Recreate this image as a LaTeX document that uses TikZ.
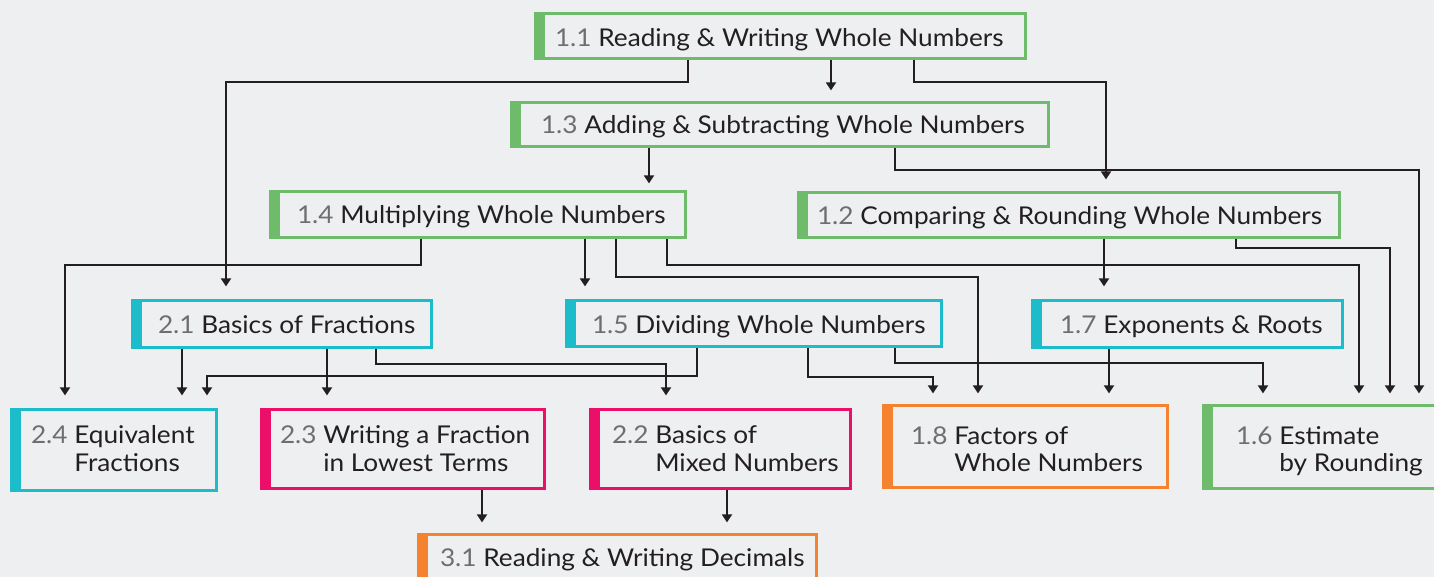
\documentclass[tikz,border=0pt]{standalone}
\usepackage{fontspec}
\setmainfont[FakeStretch=1.07]{Lato}
\usetikzlibrary{arrows.meta}
\definecolor{bgcol}{HTML}{EEEFF1}
\definecolor{grncol}{HTML}{6DBB6B}
\definecolor{cyncol}{HTML}{1DBCCA}
\definecolor{magcol}{HTML}{EC0F6A}
\definecolor{orgcol}{HTML}{F5822F}
\definecolor{numcol}{HTML}{6D6E71}
\definecolor{txtcol}{HTML}{231F20}
\definecolor{lincol}{HTML}{231F20}
\newcommand\mybox[6]{%
  \node[box=#2, minimum width={#5-#3-2.8}, minimum height={#6-#4-2.8}] (#1) at ({(#3+#5)/2},{(#4+#6)/2}) {};
  \fill[#2] (#3,#4) rectangle ({#3+11},#6);}
\newcommand\nm[1]{\textcolor{numcol}{#1}}
\begin{document}
\begin{tikzpicture}[x=1pt,y=-1pt,
  box/.style={draw=#1, line width=2.8pt, inner sep=0pt, outer sep=0pt},
  lbl/.style={font=\fontsize{24.5}{28}\selectfont, text=txtcol, inner sep=0pt, outer sep=0pt, anchor=base west},
  conn/.style={draw=lincol, line width=1.8pt, -{Triangle[width=10pt,length=8pt]}, shorten <=1.4pt, shorten >=#1},
  conn/.default=12.5pt]
\fill[bgcol] (0,0) rectangle (1434,577);
\useasboundingbox (0,0) rectangle (1434,577);
% boxes
\mybox{n11}{grncol}{534}{12}{1027}{60}
\mybox{n13}{grncol}{510}{101}{1050}{148}
\mybox{n14}{grncol}{269}{190}{687}{239}
\mybox{n12}{grncol}{797}{191}{1341}{239}
\mybox{n21}{cyncol}{131}{299}{433}{349}
\mybox{n15}{cyncol}{565}{299}{943}{348}
\mybox{n17}{cyncol}{1031}{299}{1344}{349}
\mybox{n24}{cyncol}{10}{408}{218}{492}
\mybox{n23}{magcol}{260}{408}{546}{490}
\mybox{n22}{magcol}{589}{408}{852}{490}
\mybox{n18}{orgcol}{882}{404}{1169}{489}
\mybox{n16}{grncol}{1202}{404}{1450}{490}
\mybox{n31}{orgcol}{417}{533}{818}{595}
% labels
\node[lbl] (t11) at (555,47) {\nm{1.1} Reading \& Writing Whole Numbers};
\node[lbl] (t13) at (541,134) {\nm{1.3} Adding \& Subtracting Whole Numbers};
\node[lbl] (t14) at (297,224) {\nm{1.4} Multiplying Whole Numbers};
\node[lbl] (t12) at (817,224.5) {\nm{1.2} Comparing \& Rounding Whole Numbers};
\node[lbl] (t21) at (158,333.5) {\nm{2.1} Basics of Fractions};
\node[lbl] (t15) at (592,333) {\nm{1.5} Dividing Whole Numbers};
\node[lbl] (t17) at (1060,333.5) {\nm{1.7} Exponents \& Roots};
\node[lbl] (t24) at (31,443) {\nm{2.4} Equivalent};
\node[lbl] (t24b) at (31,471) {\hphantom{2.4\ }Fractions};
\node[lbl] (t23) at (280,443) {\nm{2.3} Writing a Fraction};
\node[lbl] (t23b) at (280,471) {\hphantom{2.3\ }in Lowest Terms};
\node[lbl] (t22) at (612,443) {\nm{2.2} Basics of};
\node[lbl] (t22b) at (612,471) {\hphantom{2.2\ }Mixed Numbers};
\node[lbl] (t18) at (911,444) {\nm{1.8} Factors of};
\node[lbl] (t18b) at (911,471) {\hphantom{1.8\ }Whole Numbers};
\node[lbl] (t16) at (1236,444) {\nm{1.6} Estimate};
\node[lbl] (t16b) at (1236,471) {\hphantom{1.6\ }by Rounding};
\node[lbl] (t31) at (440,566) {\nm{3.1} Reading \& Writing Decimals};
% connectors
\draw[conn=14pt] (688,0 |- n11.south) |- (226,82) -- (226,0 |- n21.north);
\draw[conn=12pt] (831,0 |- n11.south) -- (831,0 |- n13.north);
\draw[conn=13pt] (914,0 |- n11.south) |- (1106,82) -- (1106,0 |- n12.north);
\draw[conn=8pt] (649,0 |- n13.south) -- (649,0 |- n14.north);
\draw[conn=12pt] (895,0 |- n13.south) |- (1419,170) -- (1419,0 |- n16.north);
\draw[conn=14pt] (421,0 |- n14.south) |- (65,265) -- (65,0 |- n24.north);
\draw[conn=14pt] (585,0 |- n14.south) -- (585,0 |- n15.north);
\draw[conn=12pt] (616,0 |- n14.south) |- (978,277) -- (978,0 |- n18.north);
\draw[conn=12pt] (667,0 |- n14.south) |- (1359,265) -- (1359,0 |- n16.north);
\draw[conn=14pt] (1104,0 |- n12.south) -- (1104,0 |- n17.north);
\draw[conn=12pt] (1236,0 |- n12.south) |- (1390,248) -- (1390,0 |- n16.north);
\draw[conn=14pt] (182,0 |- n21.south) -- (182,0 |- n24.north);
\draw[conn=14pt] (327,0 |- n21.south) -- (327,0 |- n23.north);
\draw[conn=14pt] (376,0 |- n21.south) |- (666,364) -- (666,0 |- n22.north);
\draw[conn=14pt] (697,0 |- n15.south) |- (207,376) -- (207,0 |- n24.north);
\draw[conn=12pt] (808,0 |- n15.south) |- (933,377) -- (933,0 |- n18.north);
\draw[conn=12pt] (895,0 |- n15.south) |- (1263,363) -- (1263,0 |- n16.north);
\draw[conn=12pt] (1109,0 |- n17.south) -- (1109,0 |- n18.north);
\draw[conn=12pt] (482,0 |- n23.south) -- (482,0 |- n31.north);
\draw[conn=12pt] (727,0 |- n22.south) -- (727,0 |- n31.north);
\end{tikzpicture}
\end{document}
